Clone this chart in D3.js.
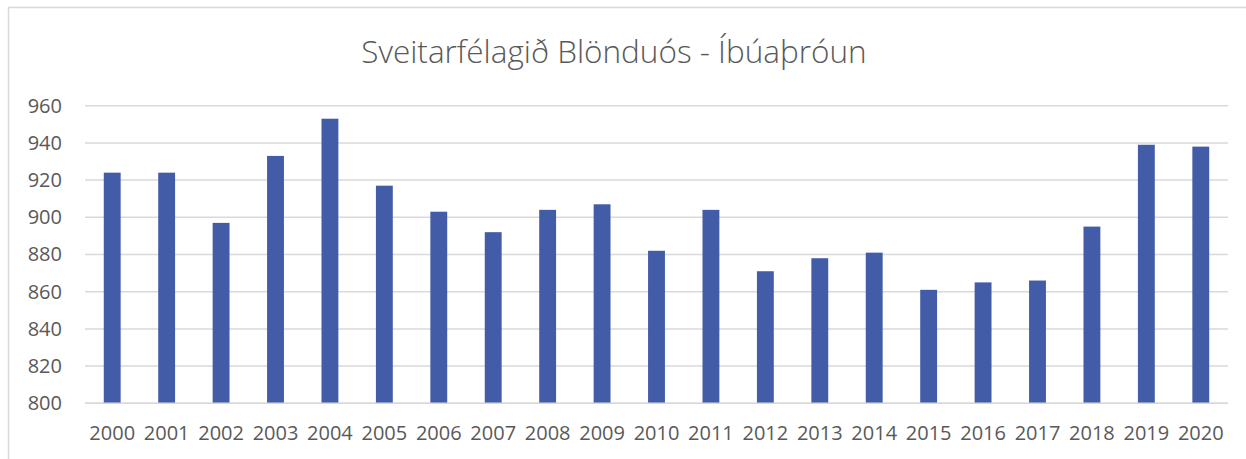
<!DOCTYPE html>
<html>
<head>
<meta charset="utf-8">
<script src="https://cdn.jsdelivr.net/npm/d3@7"></script>
<style>
  body { margin: 0; background: #fff; }
  svg { display: block; font-family: 'Open Sans', sans-serif; }
</style>
</head>
<body>
<div id="chart"></div>
<script>
let years = ['2000', '2001', '2002', '2003', '2004', '2005', '2006', '2007', '2008', '2009', '2010',
    '2011', '2012', '2013', '2014', '2015', '2016', '2017', '2018', '2019', '2020'];
let residents = [924, 924, 897, 933, 953, 917, 903, 892, 904, 907, 882,
    904, 871, 878, 881, 861, 865, 866, 895, 939, 938];
let yTicks = [800, 820, 840, 860, 880, 900, 920, 940, 960];
let title = 'Sveitarfélagið Blönduós - Íbúaþróun';

let chart_width = 1246;
let chart_height = 459;
let plot_left = 85, plot_right = 1228, plot_top = 105.7, plot_bottom = 403.3;

let svg = d3.select('#chart')
    .append('svg')
    .attr('width', chart_width)
    .attr('height', chart_height);

// chart frame (runs off the right/bottom edge)
svg.append('rect')
    .attr('x', 8.5)
    .attr('y', 7.5)
    .attr('width', 1300)
    .attr('height', 500)
    .attr('fill', 'none')
    .attr('stroke', '#d9d9d9')
    .attr('stroke-width', 1.5);

svg.append('text')
    .attr('x', 614)
    .attr('y', 63)
    .attr('text-anchor', 'middle')
    .attr('fill', '#595959')
    .attr('font-size', 31.5)
    .attr('font-weight', 300)
    .text(title);

let xScale = d3.scaleBand()
    .domain(years)
    .range([plot_left, plot_right])
    .paddingInner(0.69)
    .paddingOuter(0.345);

let yScale = d3.scaleLinear()
    .domain([800, 960])
    .range([plot_bottom, plot_top]);

// gridlines
svg.append('g')
    .selectAll('line')
    .data(yTicks)
    .enter()
    .append('line')
    .attr('x1', plot_left)
    .attr('x2', plot_right)
    .attr('y1', d => yScale(d))
    .attr('y2', d => yScale(d))
    .attr('stroke', '#d9d9d9')
    .attr('stroke-width', 1.5);

// y axis labels
let yAxis = d3.axisLeft(yScale)
    .tickValues(yTicks)
    .tickSize(0)
    .tickPadding(23);
svg.append('g')
    .attr('transform', 'translate(' + plot_left + ',0)')
    .call(yAxis)
    .call(g => g.select('.domain').remove())
    .selectAll('text')
    .attr('font-family', 'Open Sans, sans-serif')
    .attr('font-size', 20)
    .attr('fill', '#595959');

// bars
svg.append('g')
    .selectAll('rect')
    .data(years)
    .enter()
    .append('rect')
    .attr('x', d => xScale(d))
    .attr('y', (d, i) => yScale(residents[i]))
    .attr('width', xScale.bandwidth())
    .attr('height', (d, i) => yScale(800) - yScale(residents[i]))
    .attr('fill', '#425ca8');

// x axis labels
let xAxis = d3.axisBottom(xScale)
    .tickSize(0)
    .tickPadding(23);
svg.append('g')
    .attr('transform', 'translate(0,' + plot_bottom + ')')
    .call(xAxis)
    .call(g => g.select('.domain').remove())
    .selectAll('text')
    .attr('font-family', 'Open Sans, sans-serif')
    .attr('font-size', 20)
    .attr('fill', '#595959');

// baseline drawn on top
svg.append('line')
    .attr('x1', plot_left)
    .attr('x2', plot_right)
    .attr('y1', yScale(800))
    .attr('y2', yScale(800))
    .attr('stroke', '#d9d9d9')
    .attr('stroke-width', 1.5);
</script>
</body>
</html>
